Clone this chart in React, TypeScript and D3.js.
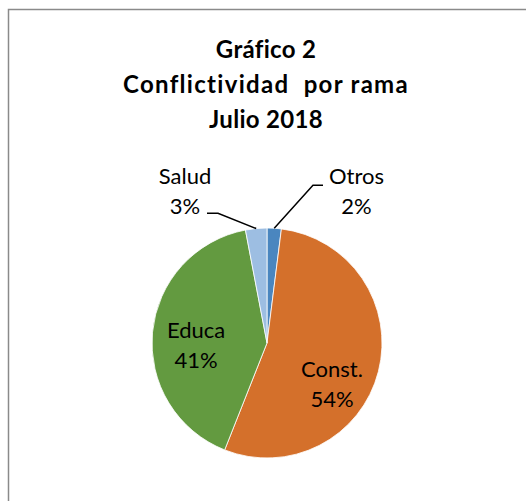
import React from "react";
import * as d3 from "d3";

const categories = ["Otros", "Const.", "Educa", "Salud"];
const values = [2, 54, 41, 3];
const colors = ["#4A86BF", "#D4702B", "#639A40", "#9DBEE2"];
const titleLines = ["Gráfico 2", "Conflictividad  por rama", "Julio 2018"];

const W = 526;
const H = 501;
const cx = 267;
const cy = 343;
const R = 115;

// label layout: offsets in units of R from pie center
const labelLayout: Record<string, any> = {
  "Otros": { kind: "out", dx: 0.778, dy: -1.38, side: "left" },
  "Const.": { kind: "in", dx: 0.565, dy: 0.296 },
  "Educa": { kind: "in", dx: -0.617, dy: -0.043 },
  "Salud": { kind: "out", dx: -0.713, dy: -1.38, side: "right" },
};

export default function App() {
  const data = categories.map((c, i) => ({ name: c, value: values[i], color: colors[i] }));
  const total = d3.sum(values);
  const pie = d3.pie<any>().value((d: any) => d.value).sort(null).startAngle(0).endAngle(2 * Math.PI);
  const arcs = pie(data);
  const arc = d3.arc<any>().innerRadius(0).outerRadius(R);
  const fmt = (v: number) => `${Math.round((v / total) * 100)}%`;
  const lineH = 30;
  const font = "Lato, 'Open Sans', sans-serif";

  return (
    <svg width={W} height={H} style={{ position: "absolute", left: 0, top: 0 }}>
      <rect x={0} y={0} width={W} height={H} fill="#fff" />
      <rect x={8.5} y={9.5} width={W + 20} height={H + 20} fill="#fff" stroke="#8a8a8a" strokeWidth={1.5} />
      <g fontFamily={font} fontWeight="bold" fontSize={24} textAnchor="middle" fill="#000">
        {titleLines.map((t, i) => (
          <text key={i} x={266} y={58 + i * 35} letterSpacing={i === 1 ? 1.3 : 0.3} style={{ whiteSpace: "pre" }}>{t}</text>
        ))}
      </g>
      <g transform={`translate(${cx},${cy})`}>
        {arcs.map((a, i) => (
          <path key={i} d={arc(a) as string} fill={a.data.color} stroke="#fff" strokeWidth={0.8} />
        ))}
        {arcs.map((a, i) => {
          const L = labelLayout[a.data.name];
          const lx = L.dx * R;
          const ly = L.dy * R;
          const mid = (a.startAngle + a.endAngle) / 2;
          const px = Math.sin(mid) * R;
          const py = -Math.cos(mid) * R;
          let leader = null;
          if (L.kind === "out") {
            if (L.side === "right") {
              const x0 = lx + 22;
              const yy = ly + lineH - 1;
              leader = <polyline points={`${x0},${yy} ${x0 + 11},${yy} ${px},${py}`} fill="none" stroke="#000" strokeWidth={1.5} />;
            } else {
              const x0 = lx - 33.5;
              const yy = ly + 1;
              leader = <polyline points={`${px},${py} ${x0 - 10},${yy} ${x0},${yy}`} fill="none" stroke="#000" strokeWidth={1.5} />;
            }
          }
          return (
            <g key={"l" + i}>
              {leader}
              <text x={lx} y={ly} textAnchor="middle" fontFamily={font} fontSize={22} fill="#000">
                <tspan x={lx} dy={0}>{a.data.name}</tspan>
                <tspan x={lx} dy={lineH}>{fmt(a.data.value)}</tspan>
              </text>
            </g>
          );
        })}
      </g>
    </svg>
  );
}
